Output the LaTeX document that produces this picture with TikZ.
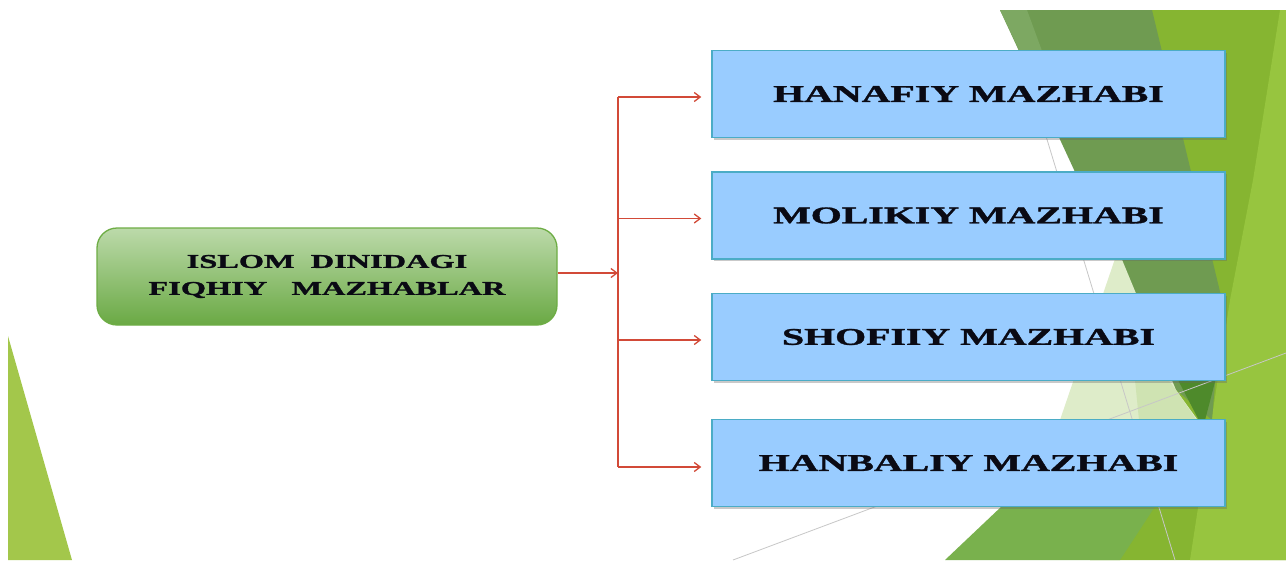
\documentclass[tikz,border=0pt]{standalone}
\usepackage{fontspec}
\setmainfont{Liberation Serif}
\newfontfamily\heavyfont{Liberation Serif}[UprightFont={* Bold}, FakeBold=1.2]
\usetikzlibrary{arrows.meta,shadows,calc}
\definecolor{bgDark}{HTML}{6F9B51}
\definecolor{bgDarkLt}{HTML}{7DA862}
\definecolor{bgBright}{HTML}{86B531}
\definecolor{bgYellow}{HTML}{97C53F}
\definecolor{bgPale}{HTML}{DEECC9}
\definecolor{bgPale2}{HTML}{CFE3B2}
\definecolor{bgDeep}{HTML}{4E8A2B}
\definecolor{bgMid}{HTML}{79B14D}
\definecolor{bgLeft}{HTML}{A3C74B}
\definecolor{boxBlue}{HTML}{99CCFF}
\definecolor{boxEdge}{HTML}{4BACC6}
\definecolor{grTop}{HTML}{BCDAAA}
\definecolor{grBot}{HTML}{6AA944}
\definecolor{grEdge}{HTML}{6EAD45}
\definecolor{arrowRed}{HTML}{D24A38}
\definecolor{txt}{HTML}{0A0A14}
\tikzset{
  bluebox/.style={draw=boxEdge, line width=1.4pt, fill=boxBlue, minimum width=513pt, minimum height=87pt, inner sep=0pt,
    font=\heavyfont\fontsize{24}{24}\selectfont, text=txt,
    drop shadow={shadow xshift=1.5pt, shadow yshift=-2pt, opacity=0.35, fill=black!60}},
  greenbox/.style={draw=grEdge, line width=1.3pt, rounded corners=20pt, top color=grTop, bottom color=grBot,
    minimum width=460pt, minimum height=97pt, inner sep=0pt, align=center, text=txt,
    font=\heavyfont\fontsize{19.5}{27}\selectfont},
  conn/.style={draw=arrowRed, line width=1.6pt, -{Straight Barb[length=6pt,width=9pt,line width=1.3pt]}},
  busline/.style={draw=arrowRed, line width=1.6pt},
  gline/.style={draw=black!22, line width=0.8pt}
}
\newcommand{\wide}[1]{\scalebox{1.66}[1]{#1}}
\begin{document}
\begin{tikzpicture}[x=1pt,y=-1pt]
\useasboundingbox (0,0) rectangle (1286,560);
\fill[white] (0,0) rectangle (1286,560);
% background facets
\fill[bgBright] (1150,10) -- (1286,10) -- (1286,560) -- (1090,560) -- cycle;
\fill[bgYellow] (1280,10) -- (1286,10) -- (1286,560) -- (1190,560) -- (1230,300) -- (1253,180) -- cycle;
\fill[bgDark] (1000,10) -- (1152,10) -- (1222,300) -- (1212,420) -- (1176,390) -- cycle;
\fill[bgDarkLt] (1000,10) -- (1027,10) -- (1060,100) -- (1043,100) -- cycle;
\fill[bgPale] (1118,250) -- (1176,390) -- (1205,430) -- (1150,506) -- (1020,506) -- (1060,420) -- cycle;
\fill[bgPale2] (1130,330) -- (1176,390) -- (1200,425) -- (1140,430) -- cycle;
\fill[bgDeep] (1178,380) -- (1216,378) -- (1203,428) -- cycle;
\fill[bgMid] (945,560) -- (1040,470) -- (1130,430) -- (1205,430) -- (1120,560) -- cycle;
\fill[bgLeft] (8,336) -- (8,560) -- (72,560) -- cycle;
\draw[gline] (1035,100) -- (1175,560);
\draw[gline] (733,560) -- (1286,353);
% nodes
\node[greenbox] (root) at (327,276.5) {\wide{ISLOM\ \ DINIDAGI}\\\wide{FIQHIY\ \ \ MAZHABLAR}};
\node[bluebox] (h1) at (968.5,94) {\wide{HANAFIY MAZHABI}};
\node[bluebox] (h2) at (968.5,215.5) {\wide{MOLIKIY MAZHABI}};
\node[bluebox] (h3) at (968.5,337) {\wide{SHOFIIY MAZHABI}};
\node[bluebox] (h4) at (968.5,463) {\wide{HANBALIY MAZHABI}};
\coordinate (bus) at (618,273);
% connectors
\draw[busline] ($(bus |- h1.west)+(0,3)$) -- ($(bus |- h4.west)+(0,4)$);
\draw[conn] (root.east |- bus) -- (bus);
\draw[conn, shorten >=10pt] ($(bus |- h1.west)+(0,3)$) -- ($(h1.west)+(0,3)$);
\draw[conn, shorten >=10pt] ($(bus |- h2.west)+(0,3)$) -- ($(h2.west)+(0,3)$);
\draw[conn, shorten >=10pt] ($(bus |- h3.west)+(0,3)$) -- ($(h3.west)+(0,3)$);
\draw[conn, shorten >=10pt] ($(bus |- h4.west)+(0,4)$) -- ($(h4.west)+(0,4)$);
\end{tikzpicture}
\end{document}
